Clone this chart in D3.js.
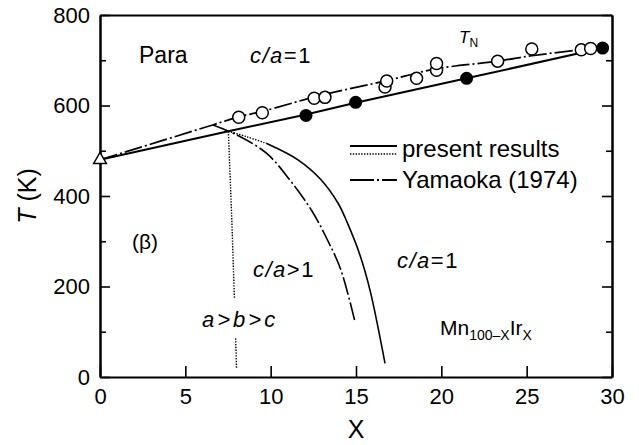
<!DOCTYPE html>
<html>
<head>
<meta charset="utf-8">
<script src="https://cdn.jsdelivr.net/npm/d3@7"></script>
<style>
  html, body { margin: 0; padding: 0; background: #fff; }
  svg { display: block; font-family: "Liberation Sans", Arial, Helvetica, sans-serif; }
  text { fill: #000; }
</style>
</head>
<body>
<svg id="chart" width="639" height="445"></svg>
<script>
// Axis ticks
const xTicks = [0, 5, 10, 15, 20, 25, 30];
const yTicks = [0, 200, 400, 600, 800];
const yMinorTicks = [100, 300, 500, 700];

// Néel temperature, Yamaoka (1974): open circles
const yamaokaX = [8.13, 9.51, 12.55, 13.18, 16.7, 16.8, 18.55, 19.72, 19.72, 23.3, 25.3, 28.2, 28.75];
const yamaokaT = [574, 584, 616, 618, 641, 654, 660, 678, 693, 698, 725, 723, 726];

// Néel temperature, present results: filled circles
const presentX = [12.07, 14.98, 21.48, 29.45];
const presentT = [578, 607, 660, 727];

// Pure Mn (beta)
const pureX = [0];
const pureT = [480];

// T_N lines
const tnPresentX = [0, 7.52, 12.07, 14.98, 21.48, 29.45];
const tnPresentT = [480, 543, 580, 606, 660, 727];
const tnYamaokaX = [0, 6.6, 8.13, 9.5, 12.9, 16.8, 19.7, 23.3, 25.3, 28.1, 29.45];
const tnYamaokaT = [480, 557, 575, 587, 622, 655, 681, 698, 710, 723, 730];

// c/a = 1 / c/a > 1 boundary, present results (dotted start, then solid)
const caDottedX = [7.52, 8.6, 9.77];
const caDottedT = [543, 531, 516];
const caSolidX = [9.77, 11.6, 12.95, 13.95, 14.5, 15.2, 15.82, 16.7];
const caSolidT = [516, 480, 436, 384, 340, 273, 192, 30];

// c/a boundary, Yamaoka (1974)
const caYamaokaX = [6.62, 8.01, 9.77, 11.13, 12.4, 13.3, 14.1, 14.94];
const caYamaokaT = [557, 535, 494, 435, 368, 305, 238, 122];

// a>b>c boundary, present results
const abcX = [7.52, 7.72, 7.87, 8.0];
const abcT = [543, 351, 180, 20];

const svg = d3.select("#chart");
const margin = { left: 100, top: 15, right: 27, bottom: 68 };
const W = 639, H = 445;

const x = d3.scaleLinear().domain([0, 30]).range([margin.left, W - margin.right]);
const y = d3.scaleLinear().domain([0, 800]).range([H - margin.bottom, margin.top]);

const zip = (xs, ys) => xs.map((v, i) => [v, ys[i]]);
const line = d3.line().x(d => x(d[0])).y(d => y(d[1])).curve(d3.curveCatmullRom.alpha(0.5));
const lineLin = d3.line().x(d => x(d[0])).y(d => y(d[1]));

const DASHDOT = "18,3,2,3";
const DOTTED = "1.4,1.4";

// Frame and axes
const axisG = svg.append("g");
function styleAxis(g) {
  g.select(".domain").attr("stroke", "#000").attr("stroke-width", 2);
  g.selectAll(".tick line").attr("stroke", "#000").attr("stroke-width", 1.6);
  g.selectAll(".tick text").attr("fill", "#000").style("font-size", "22px")
    .style("font-family", "'Liberation Sans', Arial, sans-serif");
}
axisG.append("g").attr("transform", `translate(${margin.left},0)`)
  .call(d3.axisLeft(y).tickValues(yTicks).tickSize(-10).tickSizeOuter(0).tickPadding(10))
  .call(styleAxis);
axisG.append("g").attr("transform", `translate(${margin.left},0)`)
  .call(d3.axisLeft(y).tickValues(yMinorTicks).tickSize(-6).tickSizeOuter(0).tickFormat(""))
  .call(styleAxis);
axisG.append("g").attr("transform", `translate(${W - margin.right},0)`)
  .call(d3.axisRight(y).tickValues(yTicks).tickSize(-10).tickSizeOuter(0).tickFormat(""))
  .call(styleAxis);
axisG.append("g").attr("transform", `translate(${W - margin.right},0)`)
  .call(d3.axisRight(y).tickValues(yMinorTicks).tickSize(-6).tickSizeOuter(0).tickFormat(""))
  .call(styleAxis);
axisG.append("g").attr("transform", `translate(0,${H - margin.bottom})`)
  .call(d3.axisBottom(x).tickValues(xTicks).tickSize(-11).tickSizeOuter(0).tickPadding(11))
  .call(styleAxis);
axisG.append("g").attr("transform", `translate(0,${margin.top})`)
  .call(d3.axisTop(x).tickValues([]).tickSizeOuter(0))
  .call(styleAxis);

// Axis titles
svg.append("text")
  .attr("x", (x(0) + x(30)) / 2).attr("y", 438)
  .attr("text-anchor", "middle").style("font-size", "25px").text("X");
const yTitle = svg.append("text")
  .attr("transform", `translate(36,${(y(0) + y(800)) / 2}) rotate(-90)`)
  .attr("text-anchor", "middle").style("font-size", "25px");
yTitle.append("tspan").style("font-style", "italic").text("T");
yTitle.append("tspan").text(" (K)");

// Lines
const lines = svg.append("g").attr("fill", "none").attr("stroke", "#000");
lines.append("path").attr("d", lineLin(zip(tnPresentX, tnPresentT))).attr("stroke-width", 2);
lines.append("path").attr("d", line(zip(tnYamaokaX, tnYamaokaT))).attr("stroke-width", 1.7)
  .attr("stroke-dasharray", DASHDOT);
lines.append("path").attr("d", line(zip(caDottedX, caDottedT))).attr("stroke-width", 1.4)
  .attr("stroke-dasharray", DOTTED);
lines.append("path").attr("d", line(zip(caSolidX, caSolidT))).attr("stroke-width", 1.6);
lines.append("path").attr("d", line(zip(caYamaokaX, caYamaokaT))).attr("stroke-width", 1.6)
  .attr("stroke-dasharray", DASHDOT);
lines.append("path").attr("d", lineLin(zip(abcX, abcT))).attr("stroke-width", 1.4)
  .attr("stroke-dasharray", DOTTED);

// Markers
const marks = svg.append("g");
marks.selectAll("circle.open").data(zip(yamaokaX, yamaokaT)).join("circle")
  .attr("class", "open")
  .attr("cx", d => x(d[0])).attr("cy", d => y(d[1])).attr("r", 6)
  .attr("fill", "#fff").attr("stroke", "#000").attr("stroke-width", 1.5);
marks.selectAll("circle.filled").data(zip(presentX, presentT)).join("circle")
  .attr("class", "filled")
  .attr("cx", d => x(d[0])).attr("cy", d => y(d[1])).attr("r", 6.5)
  .attr("fill", "#000");
marks.selectAll("path.tri").data(zip(pureX, pureT)).join("path")
  .attr("class", "tri")
  .attr("d", d3.symbol(d3.symbolTriangle, 70))
  .attr("transform", d => `translate(${x(d[0])},${y(d[1])})`)
  .attr("fill", "#fff").attr("stroke", "#000").attr("stroke-width", 1.5);

// Legend
const leg = svg.append("g");
leg.append("line").attr("x1", 350).attr("x2", 397).attr("y1", 146).attr("y2", 146)
  .attr("stroke", "#000").attr("stroke-width", 1.8);
leg.append("line").attr("x1", 350).attr("x2", 397).attr("y1", 154).attr("y2", 154)
  .attr("stroke", "#000").attr("stroke-width", 1.4).attr("stroke-dasharray", DOTTED);
leg.append("line").attr("x1", 350).attr("x2", 397).attr("y1", 180).attr("y2", 180)
  .attr("stroke", "#000").attr("stroke-width", 1.8).attr("stroke-dasharray", "24,3,2,3");
leg.append("text").attr("x", 402).attr("y", 157).style("font-size", "24px").text("present results");
leg.append("text").attr("x", 402).attr("y", 188).style("font-size", "24px").text("Yamaoka (1974)");

// Region labels
const lab = svg.append("g");
lab.append("text").attr("x", 139).attr("y", 63).style("font-size", "23px").text("Para");

function caLabel(px, py, rel) {
  const t = lab.append("text").attr("x", px).attr("y", py).style("font-size", "22px")
    .style("letter-spacing", "1.5px");
  t.append("tspan").style("font-style", "italic").text("c/a");
  t.append("tspan").text(rel + "1");
}
caLabel(250, 63, "=");
caLabel(397, 268, "=");
caLabel(253, 277, ">");

const tn = lab.append("text").attr("x", 459).attr("y", 43).style("font-size", "17px");
tn.append("tspan").style("font-style", "italic").text("T");
tn.append("tspan").attr("dy", 4).style("font-size", "12px").text("N");

lab.append("text").attr("x", 132).attr("y", 249).style("font-size", "21px").text("(β)");

// a>b>c label on a white patch interrupting the dotted boundary
const abcBg = lab.append("rect").attr("fill", "#fff");
const abc = lab.append("text").attr("x", 202).attr("y", 327).style("font-size", "22px")
  .style("font-style", "italic").style("letter-spacing", "3px").text("a>b>c");
const bb = abc.node().getBBox();
abcBg.attr("x", bb.x).attr("y", bb.y - 8).attr("width", bb.width).attr("height", bb.height + 14);

const mn = lab.append("text").attr("x", 440).attr("y", 335).style("font-size", "21px");
mn.append("tspan").text("Mn");
mn.append("tspan").attr("dy", 5).style("font-size", "14px").text("100–X");
mn.append("tspan").attr("dy", -5).text("Ir");
mn.append("tspan").attr("dy", 5).style("font-size", "14px").text("X");
</script>
</body>
</html>
